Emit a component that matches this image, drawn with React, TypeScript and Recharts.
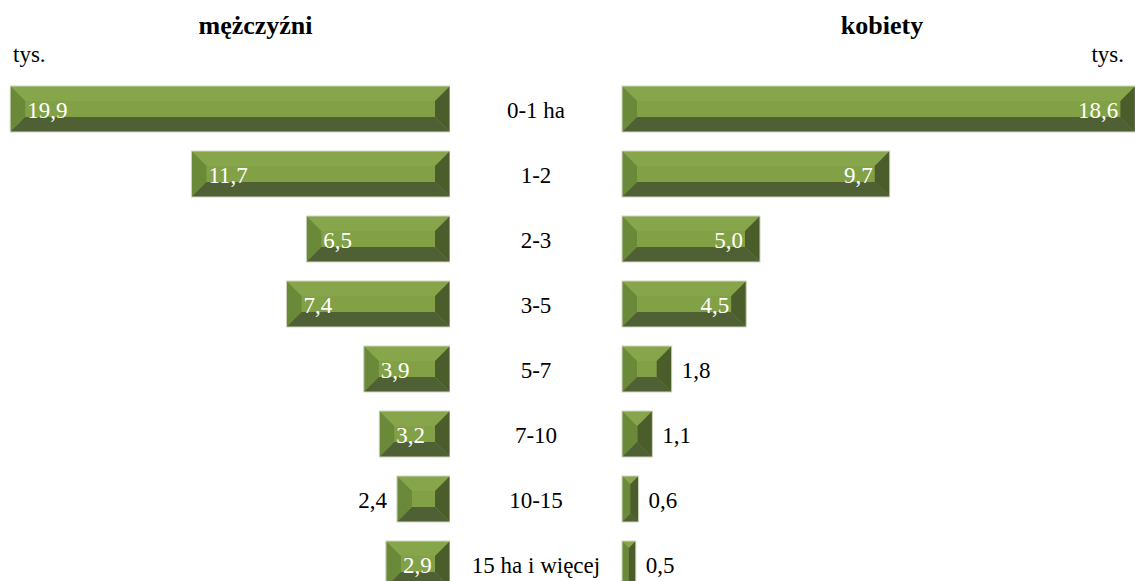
import React from "react";
import { BarChart, Bar, XAxis, YAxis, LabelList } from "recharts";

const categories = ["0-1 ha", "1-2", "2-3", "3-5", "5-7", "7-10", "10-15", "15 ha i więcej"];
const menValues = [19.9, 11.7, 6.5, 7.4, 3.9, 3.2, 2.4, 2.9];
const womenValues = [18.6, 9.7, 5.0, 4.5, 1.8, 1.1, 0.6, 0.5];

const menData = categories.map((cat, i) => ({ cat, value: menValues[i] }));
const womenData = categories.map((cat, i) => ({ cat, value: womenValues[i] }));

const FONT = '"Liberation Serif", "Times New Roman", Times';
const fmt = (v: number) => v.toFixed(1).replace(".", ",");

const norm = (p: any) => {
  let { x, y, width, height } = p;
  if (width < 0) {
    x += width;
    width = -width;
  }
  return { x, y, width, height };
};

function BevelBar(props: any) {
  const { x, y, width: w, height: h } = norm(props);
  if (!w || !h) return null;
  const b = Math.min(15, w / 2, h / 2);
  const pts = (arr: number[][]) => arr.map((p) => p.join(",")).join(" ");
  return (
    <g>
      <rect x={x} y={y} width={w} height={h} fill="#82a045" />
      <polygon points={pts([[x, y], [x + w, y], [x + w - b, y + b], [x + b, y + b]])} fill="#87a54a" />
      <polygon points={pts([[x, y], [x + b, y + b], [x + b, y + h - b], [x, y + h]])} fill="#6a8a3a" />
      <polygon points={pts([[x + w, y], [x + w, y + h], [x + w - b, y + h - b], [x + w - b, y + b]])} fill="#4a5d2b" />
      <polygon points={pts([[x, y + h], [x + b, y + h - b], [x + w - b, y + h - b], [x + w, y + h]])} fill="#4f6134" />
      <rect x={x} y={y} width={w} height={h} fill="none" stroke="#cfd6c2" strokeWidth={1} />
    </g>
  );
}

function MenLabel(props: any) {
  const { x, y, height: h } = norm(props);
  const v = Number(props.value);
  const inside = v >= 2.5;
  return (
    <text
      x={inside ? x + 17 : x - 10}
      y={y + h / 2 + 9}
      textAnchor={inside ? "start" : "end"}
      fill={inside ? "#ffffff" : "#000000"}
      fontFamily={FONT}
      fontSize={23}
    >
      {fmt(v)}
    </text>
  );
}

function WomenLabel(props: any) {
  const { x, y, width: w, height: h } = norm(props);
  const v = Number(props.value);
  const inside = v >= 2;
  return (
    <text
      x={inside ? x + w - 17 : x + w + 10}
      y={y + h / 2 + 9}
      textAnchor={inside ? "end" : "start"}
      fill={inside ? "#ffffff" : "#000000"}
      fontFamily={FONT}
      fontSize={23}
    >
      {fmt(v)}
    </text>
  );
}

function CategoryTick(props: any) {
  const { y, payload } = props;
  return (
    <text x={86} y={y + 9} textAnchor="middle" fill="#000" fontFamily={FONT} fontSize={23}>
      {payload.value}
    </text>
  );
}

const titleStyle: React.CSSProperties = {
  position: "absolute",
  top: 11,
  textAlign: "center",
  fontWeight: "bold",
  fontSize: 26,
  lineHeight: "30px",
};
const unitStyle: React.CSSProperties = {
  position: "absolute",
  top: 42,
  fontSize: 23,
  lineHeight: "26px",
};

export default function App() {
  return (
    <div
      className="pyramid"
      style={{
        position: "absolute",
        left: 0,
        top: 0,
        width: 1135,
        height: 581,
        overflow: "hidden",
        background: "#fff",
      }}
    >
      <style>{`html body #root .pyramid, html body #root .pyramid *, html body #root .pyramid svg text { font-family: ${FONT}, serif !important; }`}</style>
      <div style={{ ...titleStyle, left: 0, width: 511 }}>mężczyźni</div>
      <div style={{ ...titleStyle, left: 622, width: 520 }}>kobiety</div>
      <div style={{ ...unitStyle, left: 13 }}>tys.</div>
      <div style={{ ...unitStyle, right: 11 }}>tys.</div>

      <div style={{ position: "absolute", left: 0, top: 0 }}>
        <BarChart
          width={450}
          height={600}
          layout="vertical"
          data={menData}
          margin={{ top: 76, right: 0, left: 8, bottom: 4 }}
        >
          <XAxis type="number" domain={[0, 20]} reversed hide />
          <YAxis type="category" dataKey="cat" hide />
          <Bar dataKey="value" barSize={46} shape={<BevelBar />} isAnimationActive={false}>
            <LabelList dataKey="value" content={<MenLabel />} />
          </Bar>
        </BarChart>
      </div>

      <div style={{ position: "absolute", left: 450, top: 0 }}>
        <BarChart
          width={724}
          height={600}
          layout="vertical"
          data={womenData}
          margin={{ top: 76, right: 0, left: 0, bottom: 4 }}
        >
          <XAxis type="number" domain={[0, 20]} hide />
          <YAxis
            type="category"
            dataKey="cat"
            width={172}
            axisLine={false}
            tickLine={false}
            tick={<CategoryTick />}
            interval={0}
          />
          <Bar dataKey="value" barSize={46} shape={<BevelBar />} isAnimationActive={false}>
            <LabelList dataKey="value" content={<WomenLabel />} />
          </Bar>
        </BarChart>
      </div>
    </div>
  );
}
